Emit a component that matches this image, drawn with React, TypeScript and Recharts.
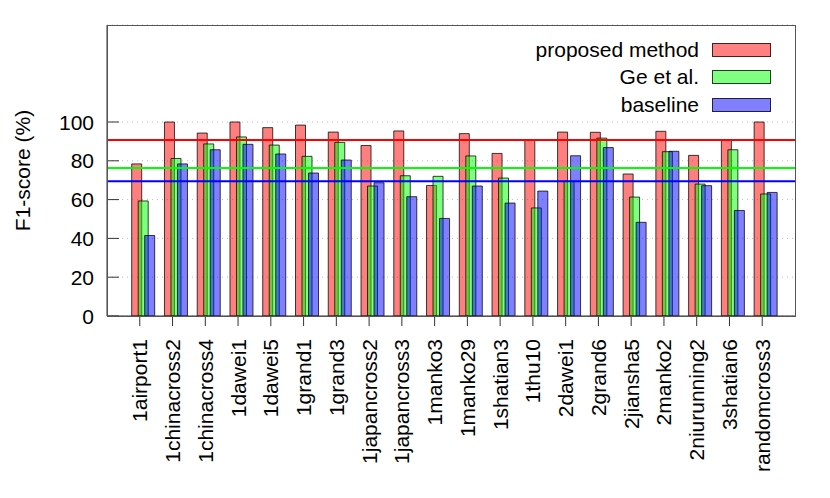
import { BarChart, Bar, XAxis, YAxis, CartesianGrid, ReferenceLine } from 'recharts';

const categories = [
  '1airport1', '1chinacross2', '1chinacross4', '1dawei1', '1dawei5', '1grand1', '1grand3',
  '1japancross2', '1japancross3', '1manko3', '1manko29', '1shatian3', '1thu10', '2dawei1',
  '2grand6', '2jiansha5', '2manko2', '2niurunning2', '3shatian6', 'randomcross3',
];

const proposed = [78.4, 100, 94.3, 100, 97.1, 98.4, 94.8, 87.9, 95.4, 67.3, 94.0, 83.8, 90.9, 94.8, 94.7, 73.2, 95.2, 82.8, 90.9, 100];
const geEtAl = [59.3, 81.2, 88.7, 92.3, 88.1, 82.3, 89.5, 67.0, 72.3, 72.0, 82.5, 71.1, 55.7, 69.4, 91.7, 61.3, 84.7, 68.0, 85.7, 62.9];
const baseline = [41.5, 78.4, 85.7, 88.5, 83.5, 73.7, 80.4, 68.7, 61.5, 50.3, 67.0, 58.2, 64.4, 82.6, 86.8, 48.3, 84.9, 67.2, 54.4, 63.7];

// average lines
const meanLines = [90.7, 76.3, 69.4];

const yTicks = [0, 20, 40, 60, 80, 100];

const series = [
  { key: 'proposed', name: 'proposed method', color: '#ff0000', swatch: 'rgb(255,128,128)' },
  { key: 'ge', name: 'Ge et al.', color: '#00ff00', swatch: 'rgb(128,255,128)' },
  { key: 'baseline', name: 'baseline', color: '#0000ff', swatch: 'rgb(128,128,255)' },
];

const data = categories.map((name, i) => ({
  name,
  proposed: proposed[i],
  ge: geEtAl[i],
  baseline: baseline[i],
}));

const font = '"Liberation Sans", Arial, sans-serif';

const XTick = ({ x, y, payload }: any) => (
  <text
    x={x}
    y={y}
    transform={`rotate(-90, ${x}, ${y})`}
    textAnchor="end"
    dominantBaseline="central"
    fontSize={21}
    fontFamily={font}
    fill="#000"
  >
    {payload.value}
  </text>
);

const YTick = ({ x, y, payload }: any) => (
  <g>
    <line x1={x + 13} x2={x + 25} y1={y} y2={y} stroke="#333" />
    <text x={x} y={y} textAnchor="end" dominantBaseline="central" fontSize={21} fontFamily={font} fill="#000">
      {payload.value}
    </text>
  </g>
);

export default function App() {
  return (
    <div style={{ position: 'relative', width: 830, height: 498, fontFamily: font }}>
      <style>{'body{margin:0}'}</style>
      <BarChart
        width={830}
        height={498}
        data={data}
        margin={{ top: 25, right: 35, left: 0, bottom: 0 }}
        barSize={10}
        barGap={-3.5}
      >
        <CartesianGrid vertical={false} stroke="#bbb" strokeDasharray="1 4" yAxisId="left" xAxisId="labels" />
        <XAxis xAxisId="bars" dataKey="name" hide height={0} padding={{ left: 19.7, right: 13.1 }} />
        <XAxis
          xAxisId="labels"
          dataKey="name"
          interval={0}
          height={182}
          padding={{ left: 16.4, right: 16.4 }}
          tick={<XTick />}
          tickSize={10}
          tickMargin={13}
          tickLine={{ stroke: '#333' }}
          axisLine={{ stroke: '#333' }}
        />
        <YAxis
          yAxisId="left"
          width={107}
          domain={[0, 150]}
          ticks={yTicks}
          tickSize={0}
          tickMargin={13}
          tickLine={false}
          tick={<YTick />}
          axisLine={{ stroke: '#333' }}
          label={{
            value: 'F1-score (%)',
            angle: -90,
            position: 'insideLeft',
            offset: 23,
            style: { textAnchor: 'middle', fontSize: 21, fontFamily: font, fill: '#000' },
          }}
        />
        {meanLines.map((v, i) => (
          <ReferenceLine
            key={series[i].key}
            y={v}
            yAxisId="left"
            xAxisId="bars"
            stroke={series[i].color}
            strokeWidth={2}
          />
        ))}
        {series.map((s) => (
          <Bar
            key={s.key}
            dataKey={s.key}
            name={s.name}
            xAxisId="bars"
            yAxisId="left"
            fill={s.color}
            fillOpacity={0.5}
            stroke="#000"
            strokeOpacity={0.75}
            strokeWidth={1}
            isAnimationActive={false}
          />
        ))}
      </BarChart>
      {/* plot frame (top and right edges) */}
      <div
        style={{
          position: 'absolute',
          left: 106.5,
          top: 24.5,
          width: 687,
          height: 290,
          border: '1px solid #555',
          pointerEvents: 'none',
        }}
      />
      <div style={{ position: 'absolute', top: 36, right: 59 }}>
        {series.map((s) => (
          <div
            key={s.key}
            style={{ display: 'flex', justifyContent: 'flex-end', alignItems: 'center', height: 27.5, gap: 13 }}
          >
            <span style={{ fontSize: 21, color: '#000' }}>{s.name}</span>
            <span
              style={{
                width: 57,
                height: 12,
                background: s.swatch,
                border: '1px solid rgba(0,0,0,0.75)',
              }}
            />
          </div>
        ))}
      </div>
    </div>
  );
}
